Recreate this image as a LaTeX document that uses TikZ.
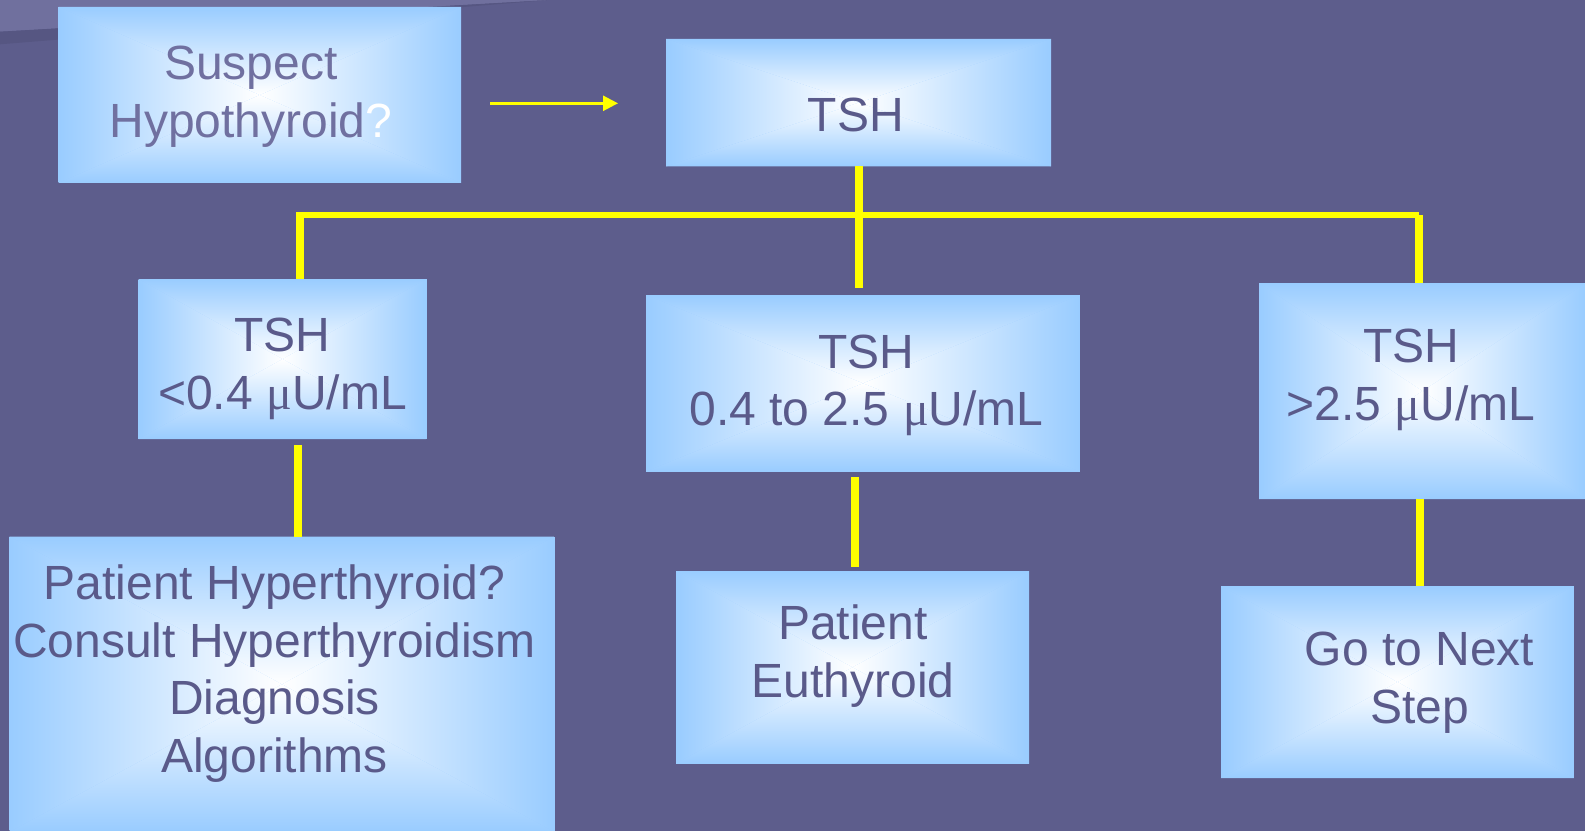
\documentclass[tikz,border=0pt]{standalone}
\usepackage{fontspec}
\setmainfont{Liberation Sans}
\newfontfamily\mufont{Liberation Serif}
\usetikzlibrary{arrows.meta,fit}
\definecolor{bg}{RGB}{93,93,140}
\definecolor{bglight}{RGB}{112,112,158}
\definecolor{bgdark}{RGB}{86,86,130}
\definecolor{boxblue}{RGB}{153,204,255}
\definecolor{txt}{RGB}{90,90,138}
\definecolor{txtlight}{RGB}{112,112,160}
\definecolor{yel}{RGB}{255,255,0}
\newcommand\muchar{{\mufont μ}}
\tikzset{
  glowbox/.style={inner sep=0pt, outer sep=0pt, fill=boxblue, path picture={
      \path (path picture bounding box.north west) coordinate (gnw)
            (path picture bounding box.north east) coordinate (gne)
            (path picture bounding box.south west) coordinate (gsw)
            (path picture bounding box.south east) coordinate (gse)
            (path picture bounding box.center) coordinate (gc);
      \shade[top color=boxblue, bottom color=white] (gnw) -- (gne) -- (gc) -- cycle;
      \shade[bottom color=boxblue, top color=white] (gsw) -- (gse) -- (gc) -- cycle;
      \shade[left color=boxblue, right color=white] (gnw) -- (gsw) -- (gc) -- cycle;
      \shade[right color=boxblue, left color=white] (gne) -- (gse) -- (gc) -- cycle;
    }},
  lbl/.style={inner sep=0pt, anchor=base, align=center, text=txt,
    font=\fontsize{36}{43.1}\selectfont},
  yv/.style={draw=yel, line width=6pt},
  yh/.style={draw=yel, line width=4.5pt},
  thinarrow/.style={draw=yel, line width=1.9pt, -{Triangle[length=11.25pt,width=11.25pt]}}
}
\begin{document}
\begin{tikzpicture}[x=0.75pt,y=-0.75pt]
\fill[bg] (0,0) rectangle (1585,831);
\useasboundingbox (0,0) rectangle (1585,831);
\fill[bglight] (0,0) -- (550,0) -- (0,31.7) -- cycle;
\fill[bgdark] (0,31.7) -- (550,0) -- (0,44.3) -- cycle;

% boxes
\node[glowbox, fit={(58.5,7) (461,183)}] (sus) {};
\node[glowbox, fit={(666,39) (1051,166.5)}] (tsh) {};
\node[glowbox, fit={(138.5,279) (426.5,439)}] (lo) {};
\node[glowbox, fit={(646,295) (1080,471.5)}] (mid) {};
\node[glowbox, fit={(1259,283) (1586,499)}] (hi) {};
\node[glowbox, fit={(9.5,536.5) (554.5,832)}] (hyper) {};
\node[glowbox, fit={(676,571) (1029,763.5)}] (eu) {};
\node[glowbox, fit={(1221,586) (1574,778)}] (next) {};

% connectors
\coordinate (a1) at (490,103.3);
\coordinate (a2) at (618,103.3);
\draw[thinarrow] (a1) -- (a2);

\coordinate (cb) at (859,288);
\draw[yv] (tsh.south -| cb) -- (cb);
\coordinate (jlt) at (300,212);
\draw[yv] (lo.north -| jlt) -- (jlt);
\coordinate (jl) at (296,215);
\coordinate (jr) at (1419,215);
\draw[yh] (jl) -- (jr);
\draw[yv] (jr) -- (hi.north -| jr);

\coordinate (l1) at (297.5,445);
\draw[yv] (l1) -- (hyper.north -| l1);
\coordinate (m1) at (855,477);
\coordinate (m2) at (855,567);
\draw[yv] (m1) -- (m2);
\coordinate (r1) at (1420,499);
\draw[yv] (hi.south -| r1) -- (next.north -| r1);

% texts (anchor = baseline of the last line)
\node[lbl, text=txtlight] (tsus) at (251,137.3) {Suspect\\Hypothyroid{\color{white}?}};
\node[lbl] (ttsh) at (855.7,131.4) {TSH};
\node[lbl] (tlo) at (282.5,409) {TSH\\<0.4 \muchar U/mL};
\node[lbl] (tmid) at (866.5,425.7) {TSH\\0.4 to 2.5 \muchar U/mL};
\node[lbl] (thi) at (1411,420) {TSH\\>2.5 \muchar U/mL};
\node[lbl] (thyper) at (274.5,772) {Patient Hyperthyroid?\\Consult Hyperthyroidism\\Diagnosis\\Algorithms};
\node[lbl] (teu) at (853,697.3) {Patient\\Euthyroid};
\node[lbl] (tnext) at (1419.5,723) {Go to Next\\Step};
\end{tikzpicture}
\end{document}
